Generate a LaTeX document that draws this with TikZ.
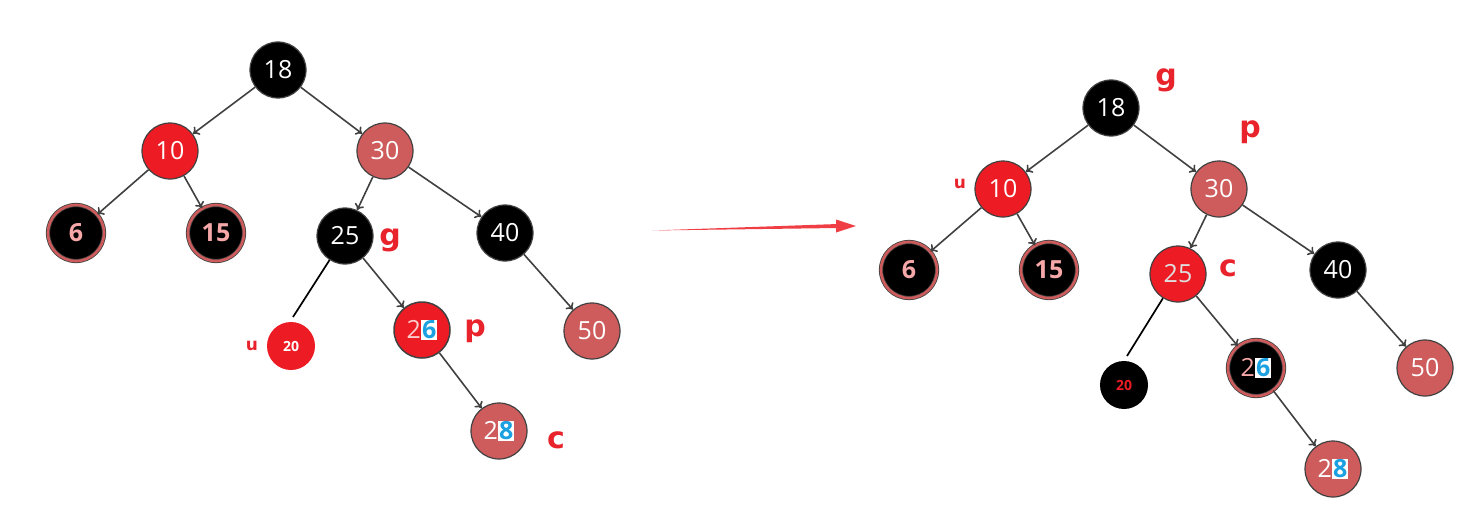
\documentclass[tikz,border=0pt]{standalone}
\usepackage{fontspec}
\setmainfont{Open Sans}
\newfontfamily\lblfont{DejaVu Sans}
\usetikzlibrary{arrows.meta}
\definecolor{rbred}{HTML}{ED1C24}
\definecolor{salm}{HTML}{CF5C5C}
\definecolor{edgegray}{HTML}{404040}
\definecolor{bluedig}{HTML}{1BA1E2}
\definecolor{pinktxt}{HTML}{F6A8A8}
\definecolor{lblred}{HTML}{E8232B}
\newcommand{\blu}[1]{{\setlength{\fboxsep}{1pt}\colorbox{white}{\textcolor{bluedig}{\bfseries #1}}}}
\begin{document}
\begin{tikzpicture}[x=1pt,y=-1pt,
  nd/.style={circle, minimum size=56pt, inner sep=0pt, draw=edgegray, line width=1.2pt, font=\fontsize{25}{28}\selectfont},
  blk/.style={nd, fill=black, text=white},
  rednd/.style={nd, fill=rbred, text=white},
  sal/.style={nd, fill=salm, text=white},
  ring/.style={nd, fill=black, text=pinktxt, draw=edgegray, line width=0.8pt, double=salm, double distance=2.6pt, font=\fontsize{25}{28}\selectfont\bfseries},
  smallnd/.style={circle, minimum size=48pt, inner sep=0pt, font=\fontsize{14}{16}\selectfont\bfseries},
  lbl/.style={text=lblred, font=\lblfont\fontsize{30}{32}\selectfont\bfseries},
  slbl/.style={text=lblred, font=\lblfont\fontsize{17}{19}\selectfont\bfseries},
  edge/.style={draw=edgegray, line width=1.6pt, -{To[length=6pt,width=10pt]}},
  plain/.style={draw=black, line width=1.7pt}
]
\useasboundingbox (0,0) rectangle (1476,519);
% ---------- left tree ----------
\node[blk] (L18) at (278,70) {18};
\node[rednd] (L10) at (170,151) {10};
\node[sal] (L30) at (385,151) {30};
\node[ring] (L6) at (76,233) {6};
\node[ring] (L15) at (216,233) {15};
\node[blk] (L25) at (345,236) {25};
\node[blk] (L40) at (505,233) {40};
\node[sal] (L50) at (592,331) {50};
\node[smallnd, fill=rbred, text=white] (L20) at (291,346) {20};
\node[rednd, line width=1.5pt] (L26) at (422,330) {\textcolor{pinktxt!60!white}{2}\blu{6}};
\node[sal] (L28) at (499,431) {2\blu{8}};
\coordinate (L20t) at (293,317);
\draw[edge] (L18) -- (L10);
\draw[edge] (L18) -- (L30);
\draw[edge] (L10) -- (L6);
\draw[edge] (L10) -- (L15);
\draw[edge] (L30) -- (L25);
\draw[edge] (L30) -- (L40);
\draw[edge] (L40) -- (L50);
\draw[edge] (L25) -- (L26);
\draw[edge] (L26) -- (L28);
\draw[plain] (L25) -- (L20t);
\node[lbl] (Lg) at (390,240) {g};
\node[lbl] (Lp) at (475,331) {p};
\node[lbl] (Lc) at (556,440) {c};
\node[slbl] (Lu) at (252,346) {u};
% ---------- transition arrow ----------
\fill[rbred!85!white] (652,230.5) -- (838,224) -- (838,228) -- cycle;
\fill[rbred!85!white] (836,219.5) -- (856,226) -- (836,232.5) -- cycle;
% ---------- right tree ----------
\node[blk] (R18) at (1111,108) {18};
\node[rednd] (R10) at (1003,189) {10};
\node[sal] (R30) at (1219,189) {30};
\node[ring] (R6) at (909,270) {6};
\node[ring] (R15) at (1049,270) {15};
\node[rednd, text=gray!25] (R25) at (1178,274) {25};
\node[blk] (R40) at (1338,270) {40};
\node[sal] (R50) at (1425,368) {50};
\node[smallnd, fill=black, text=rbred] (R20) at (1124,385) {20};
\node[ring, font=\fontsize{25}{28}\selectfont] (R26) at (1256,368) {\textcolor{pinktxt}{2}\blu{6}};
\node[sal] (R28) at (1333,469) {2\blu{8}};
\coordinate (R20t) at (1127,356);
\draw[edge] (R18) -- (R10);
\draw[edge] (R18) -- (R30);
\draw[edge] (R10) -- (R6);
\draw[edge] (R10) -- (R15);
\draw[edge] (R30) -- (R25);
\draw[edge] (R30) -- (R40);
\draw[edge] (R40) -- (R50);
\draw[edge] (R25) -- (R26);
\draw[edge] (R26) -- (R28);
\draw[plain] (R25) -- (R20t);
\node[lbl] (Rg) at (1166,80) {g};
\node[lbl] (Rp) at (1250,132) {p};
\node[lbl] (Rc) at (1228,268) {c};
\node[slbl] (Ru) at (960,184) {u};
\end{tikzpicture}
\end{document}
